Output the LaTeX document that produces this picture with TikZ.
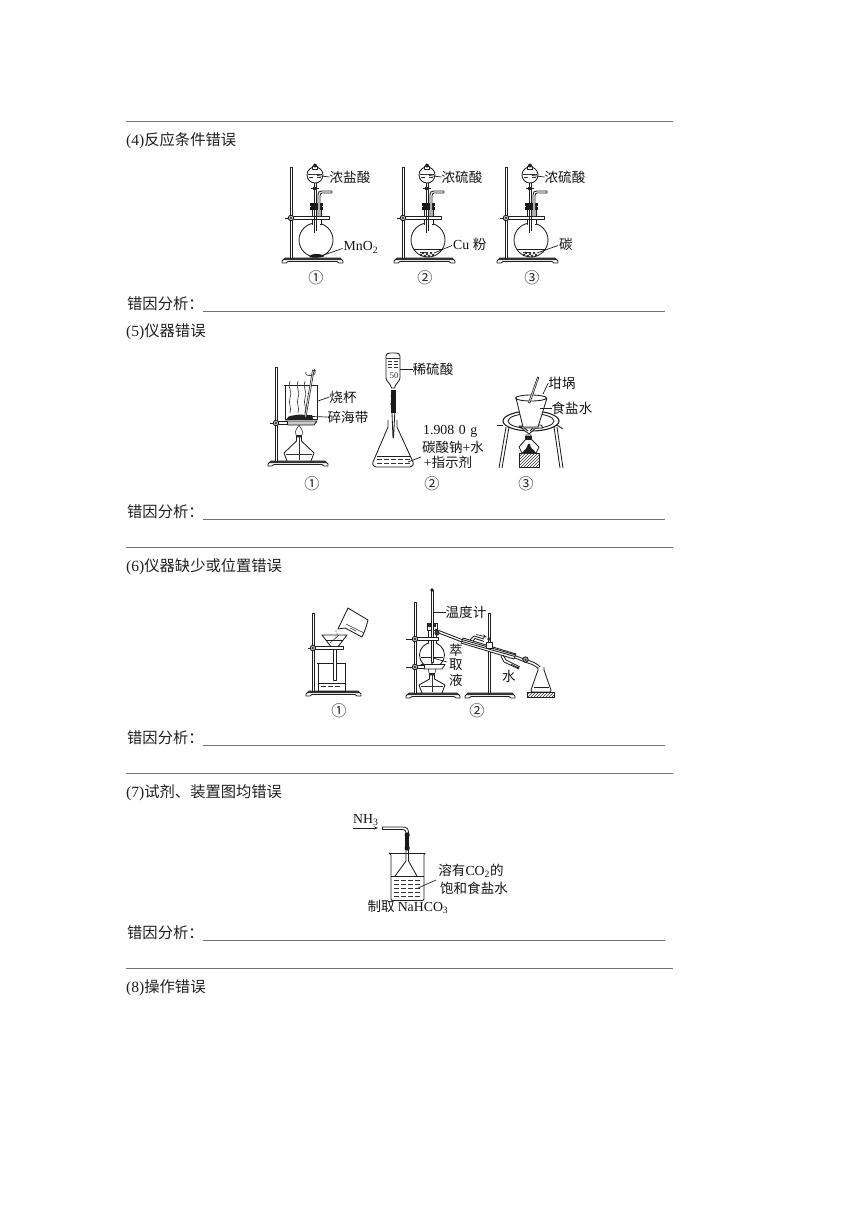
\documentclass[tikz,border=0pt]{standalone}
\usepackage{fontspec}
\setmainfont{Liberation Serif}
\newfontfamily\cjk{Noto Sans CJK SC}[Scale=0.98]
\usetikzlibrary{patterns,arrows.meta}
\tikzset{
  body/.style={anchor=west,inner sep=0pt,font=\fontsize{15.6}{17}\selectfont,text=black!88},
  lab/.style={inner sep=0pt,font=\fontsize{13.8}{15}\selectfont,text=black!92},
  num/.style={inner sep=0pt,font=\fontsize{15.5}{16}\selectfont,text=black!85},
  rule/.style={draw=black!55,line width=0.9pt},
  inst/.style={draw=black!88,line width=0.85pt,line join=round},
  thin line/.style={draw=black!80,line width=0.6pt},
  lead/.style={draw=black!88,line width=0.7pt},
  dark/.style={fill=black!88,draw=none},
  white box/.style={inst,fill=white}
}
\newcommand{\StandBase}[3]{% x-left, x-right, y-top
  \draw[inst,fill=white] (#1+3,#3) -- (#2-3,#3) -- (#2,#3+3) -- (#2,#3+5) -- (#2-4,#3+5) -- (#2-6,#3+3.5) -- (#1+6,#3+3.5) -- (#1+4,#3+5) -- (#1,#3+5) -- (#1,#3+3) -- cycle;
  \fill[black!80] (#1+3,#3) -- (#2-3,#3) -- (#2-1,#3+2.2) -- (#1+1,#3+2.2) -- cycle;}
\newcommand{\Rod}[3]{% x, y1, y2
  \draw[inst,fill=white,line width=0.7pt] (#1-1,#2) rectangle (#1+1,#3);}
\newcommand{\Clamp}[4]{% rod x, left, right, y
  \draw[white box] (#1,#4-1.8) rectangle (#3,#4+1.8);
  \draw[inst] (#2,#4) -- (#1-2,#4);
  \draw[inst,fill=black!25] (#1,#4) circle (2.8);
  \fill[black!90] (#1,#4) circle (1.2);}
\newcommand{\Lamp}[4]{% cx, top of neck, base, half width
  \draw[inst,fill=white] (#1-2.5,#2) -- (#1-2.5,#2+4) -- (#1-#4,#3-8) -- (#1-#4+3,#3) -- (#1+#4-3,#3) -- (#1+#4,#3-8) -- (#1+2.5,#2+4) -- (#1+2.5,#2) -- cycle;
  \fill[black!85] (#1-3,#2-2) rectangle (#1+3,#2);
  \draw[thin line] (#1,#2) -- (#1,#3-1);
  \draw[thin line] (#1-#4+2,#3-7) -- (#1+#4-2,#3-7);
  \draw[thin line] (#1-3,#2-2) .. controls (#1-5,#2-7) and (#1-1,#2-9) .. (#1,#2-12) .. controls (#1+1,#2-9) and (#1+5,#2-7) .. (#1+3,#2-2);}
\newcommand{\FlaskRig}[1]{%
\begin{scope}[xshift=#1pt]
  \StandBase{282}{343}{258}
  \Rod{291}{167}{258}
  \draw[inst] (316,240) circle (17);
  \draw[white box] (312,208) -- (312,224.5) -- (321,224.5) -- (321,208);
  \draw[draw=white,line width=1.4pt] (313,224.5) -- (320,224.5);
  \Clamp{291}{285}{329}{218}
  % stopper
  \fill[black!92] (310,203) rectangle (323,206);
  \fill[black!92] (310,207) rectangle (323,210);
  \draw[inst] (311,206.5) -- (322,206.5);
  % inner tube
  \draw[inst] (314,183) -- (314,233) (316,183) -- (316,231);
  % side tube
  \draw[inst,fill=white] (318,216) -- (318,195) .. controls (318,192) and (319,191) .. (322,191) -- (332,191) -- (332,193) -- (322,193) .. controls (321,193) and (320,194) .. (320,196) -- (320,216);
  % separatory funnel
  \draw[white box] (315,175) circle (8);
  \draw[white box] (312.5,166.5) rectangle (317.5,169);
  \fill[black!85] (315,165.5) circle (2);
  \draw[thin line] (308,174) -- (322,174);
  \draw[thin line] (309,177) -- (313,177) (317,177) -- (321,177);
  \draw[inst] (311,188) -- (319,188);
  \fill[black!85] (313,186.5) rectangle (317,189.5);
\end{scope}}
\newcommand{\Powder}[1]{%
\begin{scope}[xshift=#1pt]
  \draw[inst] (301.5,249) -- (330.5,249);
  \draw[thin line] (308,252) -- (316,252);
  \foreach \a/\b in {311/253,315/254,319/253,313/256,317/256,321/255,309/255}
    \draw[black!85,line width=0.6pt] (\a,\b) circle (0.9);
\end{scope}}
\begin{document}
\begin{tikzpicture}[x=1pt,y=-1pt]
\useasboundingbox (0,0) rectangle (860,1216);
\fill[white] (0,0) rectangle (860,1216);
% ---- page text
\draw[rule] (126,121) -- (673,121);
\node[body] (h4) at (126,141) {(4){\cjk 反应条件错误}};
\node[body] (e4) at (127,304) {\cjk 错因分析：};
\draw[rule] (203,311) -- (665,311);
\node[body] (h5) at (126,332) {(5){\cjk 仪器错误}};
\node[body] (e5) at (127,512) {\cjk 错因分析：};
\draw[rule] (203,519) -- (665,519);
\draw[rule] (126,547) -- (673,547);
\node[body] (h6) at (126,567) {(6){\cjk 仪器缺少或位置错误}};
\node[body] (e6) at (127,738) {\cjk 错因分析：};
\draw[rule] (203,745) -- (665,745);
\draw[rule] (126,773) -- (673,773);
\node[body] (h7) at (126,793) {(7){\cjk 试剂、装置图均错误}};
\node[body] (e7) at (127,933) {\cjk 错因分析：};
\draw[rule] (203,940) -- (665,940);
\draw[rule] (126,968) -- (673,968);
\node[body] (h8) at (126,988) {(8){\cjk 操作错误}};

% ---- (4) three flask rigs
\FlaskRig{0}\FlaskRig{112}\FlaskRig{215}
\Powder{112}\Powder{215}
\fill[black!90] (309,257) .. controls (311,253) and (318,253.5) .. (323,255) -- (324,256.5) .. controls (319,258) and (313,258) .. (309,257) -- cycle;
\node[lab] (a1) at (350,177) {\cjk 浓盐酸};
\node[lab] (a2) at (462,177) {\cjk 浓硫酸};
\node[lab] (a3) at (565,177) {\cjk 浓硫酸};
\draw[lead] (a1.west) -- (317,175.5);
\draw[lead] (a2.west) -- (429,175.5);
\draw[lead] (a3.west) -- (532,175.5);
\node[lab,anchor=west] (m1) at (343.5,247.5) {MnO\textsubscript{2}};
\node[lab,anchor=west] (m2) at (453,244.5) {Cu {\cjk 粉}};
\node[lab] (m3) at (566,244.5) {\cjk 碳};
\coordinate (t1) at (321,256);
\coordinate (t2) at (434,253);
\coordinate (t3) at (537,253);
\draw[lead] (m1.west) ++(-1,1) -- (t1);
\draw[lead] (m2.west) ++(-1,1) -- (t2);
\draw[lead] (m3.west) ++(-1,1) -- (t3);
\node[num] (c41) at (316,278) {\cjk ①};
\node[num] (c42) at (425,278) {\cjk ②};
\node[num] (c43) at (532,278) {\cjk ③};

% ---- (5)-1
\StandBase{268}{328}{461}
\Rod{276}{367}{461}
\Lamp{299}{437}{461}{15}
\draw[inst,fill=white] (285,385) -- (285,420) (317,385) -- (317,420) (284,385) -- (318,385);
\draw[inst] (285,419.5) -- (317,419.5);
\foreach \x in {290,298,305}
  \draw[thin line] (\x,381) .. controls (\x-3,387) and (\x+3,392) .. (\x,398) .. controls (\x-2,403) and (\x+2,408) .. (\x,413);
\fill[black!88] (287,419) .. controls (288,415) and (292,416) .. (296,415) .. controls (301,413.5) and (306,416) .. (312,415) -- (313,419) -- cycle;
\draw[inst,fill=white,line width=0.6pt] (312.5,370) -- (314,370.5) -- (306,417) -- (304.5,417) -- cycle;
\draw[thin line,-{Stealth[length=3pt]}] (306,372) .. controls (303,377) and (318,377) .. (314,369);
\draw[inst,fill=black!20] (285,421) -- (317,421) -- (314,425) -- (288,425) -- cycle;
\Clamp{276}{270}{287}{423}
\node[lab] (b1) at (343,397) {\cjk 烧杯};
\node[lab] (b2) at (348,417) {\cjk 碎海带};
\draw[lead] (b1.west) -- (318,401);
\draw[lead] (b2.west) -- (312,416.5);
% ---- (5)-2
\draw[inst,fill=white] (386,356) .. controls (386,354) and (388,353) .. (390,353) -- (396,353) .. controls (398,353) and (400,354) .. (400,356) -- (400,378) .. controls (400,381) and (395,384) .. (394.5,388) -- (391.5,388) .. controls (391,384) and (386,381) .. (386,378) -- cycle;
\draw[thin line] (386,358) -- (400,358);
\foreach \y in {361,364,367} \draw[thin line] (388,\y) -- (392,\y) (394,\y) -- (398,\y);
\node[inner sep=0pt,font=\fontsize{8.5}{9}\selectfont,text=black!85] (n50) at (394,376) {50};
\fill[black!90] (391,390) rectangle (395.5,413);
\fill[black!90] (393.2,404) ellipse (2.9 and 2.2) (393.2,396) ellipse (2.6 and 1.8);
\draw[inst] (392,413) -- (393,438) (394.8,413) -- (393.5,438);
\draw[inst] (388,420) -- (388,427) -- (373,462) .. controls (372,465) and (374,467) .. (376,467) -- (410,467) .. controls (412,467) and (414,465) .. (413,462) -- (397,427) -- (397,420);
\draw[inst] (376.5,456) -- (409.5,456);
\foreach \y in {459.5,463} \foreach \a in {377,384,391,398,405}
  \draw[thin line] (\a,\y) -- (\a+4.5,\y);
\node[lab] (s1) at (433,369) {\cjk 稀硫酸};
\draw[lead] (s1.west) -- (400,369);
\node[lab,anchor=west] (s2) at (423,431) {1.908\,\,0\,\,g};
\node[lab] (s3) at (453,447) {\cjk 碳酸钠\fontspec{Liberation Serif}+\cjk 水};
\node[lab] (s4) at (448,462) {\fontspec{Liberation Serif}+\cjk 指示剂};
\coordinate (s4t) at (408,462);
\draw[lead] (421,457) -- (s4t);
% ---- (5)-3
\draw[inst,fill=white,line width=1.1pt] (531,421) ellipse (28 and 10);
\draw[inst,fill=white] (531,421) ellipse (23 and 7.5);
\draw[inst] (506,427) -- (499,468) (509,427) -- (502,468);
\draw[inst] (554,427) -- (560,468) (557,427) -- (563,468);
\draw[inst] (503,425) -- (497,425);
\draw[inst] (557,425) -- (563,429);
\draw[inst,fill=white] (519,426) -- (529,434) -- (538,426) -- cycle;
\draw[inst] (522,426) -- (528,431) (535,426) -- (530,431);
\draw[inst,fill=white] (523,425) -- (541,425) -- (543,428) -- (521,428) -- cycle;
\draw[inst,fill=white] (516,398) -- (523,427) -- (538,427) -- (547,398);
\draw[inst] (531,398) ellipse (15.5 and 3);
\draw[inst,fill=white,line width=0.6pt] (537.5,377) -- (538.8,377.5) -- (530,403) -- (528.5,402.5) -- cycle;
\draw[inst,pattern=north east lines,pattern color=black!80] (519,453) rectangle (539,467);
\draw[inst,fill=white] (526,435) -- (526,439) -- (519,447) -- (522,453) -- (536,453) -- (539,447) -- (531,439) -- (531,435) -- cycle;
\fill[black!88] (525,436) rectangle (532,439.5);
\fill[black!88] (522,453) .. controls (525,449) and (527,449) .. (528,444) -- (530,444) .. controls (530,449) and (534,449) .. (536,453) -- cycle;
\node[lab] (d1) at (562,383) {\cjk 坩埚};
\node[lab] (d2) at (572,408) {\cjk 食盐水};
\draw[lead] (d1.west) -- (543,394);
\draw[lead] (d2.west) -- (540,408);
\node[num] (c51) at (312,484) {\cjk ①};
\node[num] (c52) at (432,484) {\cjk ②};
\node[num] (c53) at (526,484) {\cjk ③};

% ---- (6)-1
\StandBase{306}{361}{691}
\Rod{313}{613}{691}
\draw[inst] (318,663) -- (318,691) -- (345,691) -- (345,663) (317,663) -- (346,663);
\draw[inst] (318.5,683) -- (344.5,683);
\foreach \y in {686} \foreach \a in {321,328,335}
  \draw[thin line] (\a,\y) -- (\a+4.5,\y);
\draw[inst,fill=white] (333,648) -- (333,680) -- (336,680) -- (336,648);
\draw[inst,fill=white] (322,635) -- (347,635) -- (337,648) -- (332,648) -- cycle;
\draw[inst] (326,640) -- (343,640);
\draw[thin line] (330,643) -- (339,635);
\Clamp{313}{308}{343}{648}
\draw[inst,fill=white] (348,608) -- (368,620) .. controls (366,628) and (364,633) .. (362,637) -- (345,628) -- (338,629) -- cycle;
\draw[thin line] (346,624) -- (364,633);
\draw[thin line] (350,628) -- (356,631);
\foreach \y/\x in {631/336,634/337,637/336} \fill[black!80] (\x,\y) circle (0.7);
\node[num] (c61) at (339,711) {\cjk ①};
% ---- (6)-2
\StandBase{406}{460}{693}
\StandBase{465}{515}{693}
\Rod{415}{602}{693}
\Rod{489}{613}{693}
\Lamp{432}{675}{693}{13}
\draw[inst] (432,655) circle (12.5);
\draw[inst] (421,657) -- (443,657);
\fill[white] (428.5,636) rectangle (435.5,644.5);
\draw[inst] (428,623) -- (428,643) (436,623) -- (436,643);
\draw[inst,fill=white] (427,623) rectangle (437,630);
\fill[black!85] (428,623) rectangle (436,627);
\draw[inst,fill=white,line width=0.6pt] (430.8,590) rectangle (433.2,662);
\fill[black!90] (432,590) circle (1.8);
\foreach \y in {597,601,...,617} \draw[thin line] (431,\y) -- (432,\y);
\Clamp{415}{406}{438}{639}
\draw[inst,fill=white] (421,664.5) -- (445,664.5) -- (442,669) -- (424,669) -- cycle;
\Clamp{415}{406}{424}{667}
% side arm and condenser
\draw[inst] (435,629) -- (462,639.5) (436,632) -- (462,642);
\draw[inst,fill=white] (463,638) -- (516,654) -- (514,659) -- (461,643) -- cycle;
\draw[inst] (462,641.5) -- (515,656.5) (462,639.5) -- (515,654.8);
\draw[inst] (516,656) -- (527,660) .. controls (534,662) and (538,664) .. (541,668);
\draw[inst] (515,658) -- (526,662.5) .. controls (532,664) and (536,666) .. (538.5,669);
\fill[black!80] (437,633) circle (2.6);
\draw[inst,fill=black!35] (525.5,659.5) circle (2.7);
\fill[black!85] (525.5,659.5) circle (1);
% water tubes
\draw[inst] (470,640) -- (474,636) -- (484,639) (473,641) -- (475,638.5) -- (484,641.5);
\draw[inst] (503,655) -- (506,660) -- (520,667) (501,656) -- (504,662) -- (519,669);
\draw[lead,-{Stealth[length=4pt]}] (476,634.5) -- (487,637);
\draw[lead,-{Stealth[length=3pt]}] (511,664) -- (519.5,668.5);
% clamp on right stand
\draw[white box] (486,642) rectangle (492,648);
\fill[black!80] (489,639) circle (1.8);
% receiver
\draw[inst,fill=white] (538,667) -- (538,670) -- (531,690) .. controls (530.5,692) and (532,692) .. (533,692) -- (549,692) .. controls (550,692) and (551.5,692) .. (551,690) -- (544,670) -- (544,667);
\draw[inst] (533.5,687) -- (548.5,687);
\draw[inst,pattern=north east lines,pattern color=black!80] (527,692) rectangle (554,697);
\node[lab] (g1) at (466,612) {\cjk 温度计};
\draw[lead] (g1.west) -- (434,612);
\node[lab] (g2) at (456,650) {\cjk 萃};
\node[lab] (g3) at (456,665) {\cjk 取};
\node[lab] (g4) at (456,680) {\cjk 液};
\coordinate (g2t) at (433,658);
\draw[lead] (447,662) -- (g2t);
\node[lab] (g5) at (509,676) {\cjk 水};
\node[num] (c62) at (477,711) {\cjk ②};

% ---- (7)
\node[lab,anchor=west] (nh) at (353,820) {NH\textsubscript{3}};
\coordinate (nha) at (353,828);
\coordinate (nhb) at (378,828);
\draw[lead,-{Stealth[length=4pt]}] (nha) -- (nhb);
\draw[inst] (382,827) -- (403,827) .. controls (407,827) and (408.5,829) .. (408.5,833) -- (408.5,850);
\draw[inst] (382,829.5) -- (403,829.5) .. controls (405,829.5) and (406,831) .. (406,833) -- (406,850);
\draw[inst] (382,827) -- (382,829.5);
\fill[black!90] (405.3,833) rectangle (409.2,850);
\fill[black!90] (407.2,835) circle (2.6) (407.2,848) circle (2.6);
\draw[inst] (406,850) -- (406,861) -- (395,876) (408.5,850) -- (408.5,861) -- (417,876);
\draw[inst] (389,853) -- (391,855) -- (391,899) .. controls (391,900) and (392,900.5) .. (393,900.5) -- (422,900.5) .. controls (423,900.5) and (424,900) .. (424,899) -- (424,855) -- (425,853);
\draw[inst] (389,853) -- (425,853);
\draw[inst] (391,876) -- (424,876);
\foreach \y in {880,884,888,892,896} \foreach \a in {394,401,408,415}
  \draw[thin line] (\a,\y) -- (\a+5,\y);
\node[lab] (w1) at (471,871) {\cjk 溶有\fontspec{Liberation Serif}CO\textsubscript{2}\cjk 的};
\node[lab] (w2) at (474,888) {\cjk 饱和食盐水};
\node[lab] (w3) at (408,907) {\cjk 制取 \fontspec{Liberation Serif}NaHCO\textsubscript{3}};
\coordinate (w2t) at (418,888);
\draw[lead] (436,880) -- (w2t);
\end{tikzpicture}
\end{document}
